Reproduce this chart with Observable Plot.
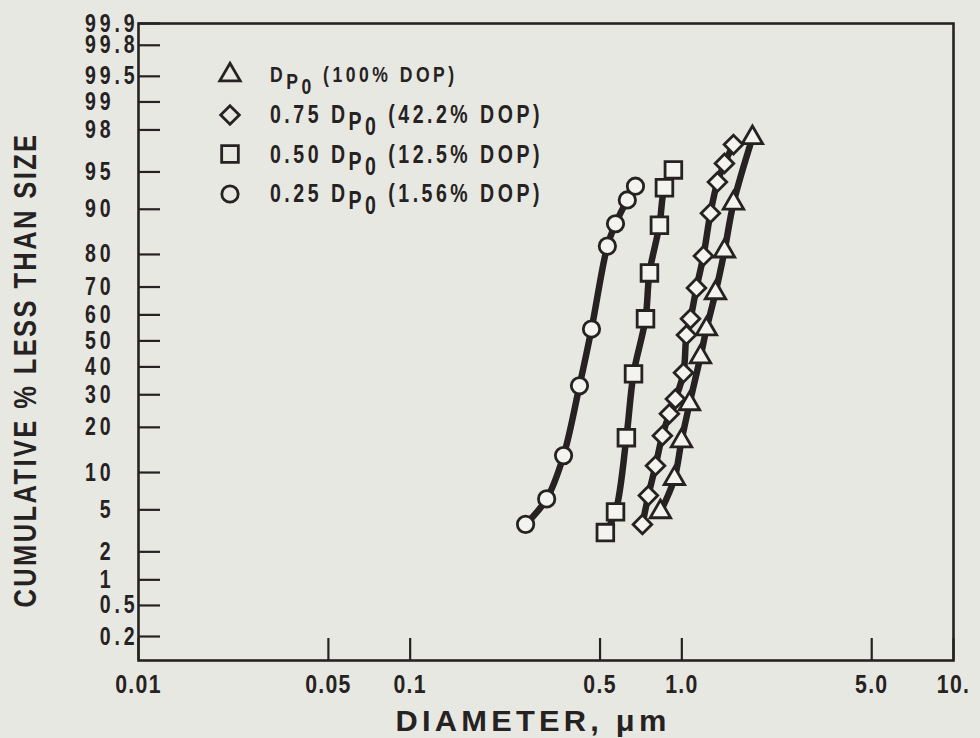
<!DOCTYPE html>
<html>
<head>
<meta charset="utf-8">
<script src="https://cdn.jsdelivr.net/npm/d3@7"></script>
<script src="https://cdn.jsdelivr.net/npm/@observablehq/plot@0.6"></script>
<style>
  html, body { margin: 0; padding: 0; background: #e8e8e3; }
  #wrap { position: relative; width: 980px; height: 738px; overflow: hidden; }
  #wrap > svg { display: block; }
  .legend { position: absolute; left: 0; top: 0; width: 980px; height: 738px; pointer-events: none;
    font-family: "Liberation Sans", Arial, sans-serif; font-weight: bold; color: #262222; }
  .lrow { position: absolute; left: 214px; height: 32px; display: flex; align-items: center; white-space: pre; }
  .lrow svg { width: 32px; height: 32px; flex: none; }
  .ltxt { display: inline-block; margin-left: 24px; letter-spacing: 4.5px; line-height: 1;
    transform: scaleX(0.78); transform-origin: 0 50%; }
  .s1 { position: relative; top: 7px; }
  .s2 { position: relative; top: 12px; }
</style>
</head>
<body>
<div id="wrap"></div>
<script>
// ---------- data ----------
const xTicks = [0.01, 0.05, 0.1, 0.5, 1, 5, 10];
const xTickLabels = ["0.01", "0.05", "0.1", "0.5", "1.0", "5.0", "10."];
const yTickPct = [99.9, 99.8, 99.5, 99, 98, 95, 90, 80, 70, 60, 50, 40, 30, 20, 10, 5, 2, 1, 0.5, 0.2];
const yTickLabels = ["99.9", "99.8", "99.5", "99", "98", "95", "90", "80", "70", "60", "50", "40", "30", "20", "10", "5", "2", "1", "0.5", "0.2"];
const xDomain = [0.01, 10];
const yDomainPct = [0.093, 99.9];

// Dp0 (100% DOP) — triangles
const dp100Diam = [0.834, 0.939, 0.997, 1.067, 1.171, 1.232, 1.330, 1.435, 1.549, 1.819];
const dp100Pct  = [4.8, 9.0, 16.5, 27.0, 43.8, 54.6, 68.0, 80.9, 91.0, 97.6];
// 0.75 Dp0 (42.2% DOP) — diamonds
const dp75Diam = [0.716, 0.753, 0.800, 0.848, 0.900, 0.947, 1.014, 1.040, 1.076, 1.132, 1.201, 1.274, 1.352, 1.435, 1.549];
const dp75Pct  = [3.7, 6.6, 11.2, 17.8, 23.9, 28.6, 37.8, 52.3, 58.5, 69.7, 79.6, 89.3, 93.9, 95.8, 97.2];
// 0.50 Dp0 (12.5% DOP) — squares
const dp50Diam = [0.523, 0.570, 0.625, 0.664, 0.735, 0.760, 0.827, 0.863, 0.931];
const dp50Pct  = [3.1, 4.8, 17.3, 37.4, 58.5, 74.6, 87.0, 93.2, 95.2];
// 0.25 Dp0 (1.56% DOP) — circles
const dp25Diam = [0.266, 0.318, 0.367, 0.420, 0.465, 0.532, 0.570, 0.630, 0.675];
const dp25Pct  = [3.7, 6.2, 13.2, 33.1, 54.6, 82.2, 87.3, 91.5, 93.4];

const legendPrefix = ["", "0.75 ", "0.50 ", "0.25 "];
const legendSuffix = [" (100% DOP)", " (42.2% DOP)", " (12.5% DOP)", " (1.56% DOP)"];

const yTitle = "CUMULATIVE % LESS THAN SIZE";
const xTitle = "DIAMETER, μm";

// ---------- style ----------
const INK = "#262222";
const FILL = "#f3f3ef";
const FONT = '"Liberation Sans", Arial, "DejaVu Sans", sans-serif';

// inverse standard normal CDF (probability-paper scale)
function probit(p) {
  const a = [-3.969683028665376e+01, 2.209460984245205e+02, -2.759285104469687e+02, 1.383577518672690e+02, -3.066479806614716e+01, 2.506628277459239e+00];
  const b = [-5.447609879822406e+01, 1.615858368580409e+02, -1.556989798598866e+02, 6.680131188771972e+01, -1.328068155288572e+01];
  const c = [-7.784894002430293e-03, -3.223964580411365e-01, -2.400758277161838e+00, -2.549732539343734e+00, 4.374664141464968e+00, 2.938163982698783e+00];
  const d = [7.784695709041462e-03, 3.224671290700398e-01, 2.445134137142996e+00, 3.754408661907416e+00];
  const pl = 0.02425, ph = 1 - pl;
  let q, r;
  if (p < pl) {
    q = Math.sqrt(-2 * Math.log(p));
    return (((((c[0]*q+c[1])*q+c[2])*q+c[3])*q+c[4])*q+c[5]) / ((((d[0]*q+d[1])*q+d[2])*q+d[3])*q+1);
  }
  if (p <= ph) {
    q = p - 0.5; r = q * q;
    return (((((a[0]*r+a[1])*r+a[2])*r+a[3])*r+a[4])*r+a[5])*q / (((((b[0]*r+b[1])*r+b[2])*r+b[3])*r+b[4])*r+1);
  }
  q = Math.sqrt(-2 * Math.log(1 - p));
  return -(((((c[0]*q+c[1])*q+c[2])*q+c[3])*q+c[4])*q+c[5]) / ((((d[0]*q+d[1])*q+d[2])*q+d[3])*q+1);
}
const toY = pct => probit(pct / 100);
const table = (diam, pct) => diam.map((v, i) => ({x: v, y: toY(pct[i])}));

const series = [
  {data: table(dp100Diam, dp100Pct), symbol: "triangle", r: 7.6},
  {data: table(dp75Diam, dp75Pct), symbol: "diamond2", r: 8.4},
  {data: table(dp50Diam, dp50Pct), symbol: "square", r: 9.4},
  {data: table(dp25Diam, dp25Pct), symbol: "circle", r: 8.2}
];

const W = 980, H = 738, ML = 138, MR = 27, MT = 23, MB = 78;
const frameW = W - ML - MR, frameH = H - MT - MB, TICK = 22;
const DECIMAL_X = 114; // decimal alignment column of the y labels

const chart = Plot.plot({
  width: W, height: H,
  marginLeft: ML, marginRight: MR, marginTop: MT, marginBottom: MB,
  x: {type: "log", domain: xDomain, axis: null},
  y: {type: "linear", domain: yDomainPct.map(toY), axis: null},
  style: {background: "transparent", color: INK, fontFamily: FONT, fontWeight: "bold", fontSize: "25px", overflow: "visible"},
  marks: [
    Plot.tickX(xTicks, {x: d => d, stroke: INK, strokeWidth: 2.2, insetTop: frameH - TICK}),
    Plot.tickY(yTickPct, {y: toY, stroke: INK, strokeWidth: 2.2, insetRight: frameW - TICK}),
    Plot.frame({stroke: INK, strokeWidth: 2.6}),
    ...series.map(s => Plot.line(s.data, {x: "x", y: "y", curve: "catmull-rom", stroke: INK, strokeWidth: 6.5, strokeLinecap: "round"})),
    ...series.map(s => Plot.dot(s.data, {x: "x", y: "y", symbol: s.symbol, r: s.r, fill: FILL, stroke: INK, strokeWidth: 2.8})),
    // text marks (order matters for post-styling below)
    Plot.text(xTicks, {x: d => d, text: (d, i) => xTickLabels[i], frameAnchor: "bottom", lineAnchor: "middle", dy: 24, fill: INK}),
    Plot.text(yTickPct, {y: toY, text: (d, i) => yTickLabels[i], frameAnchor: "left", textAnchor: "start", lineAnchor: "middle", dx: DECIMAL_X - ML, fill: INK}),
    Plot.text([yTitle], {text: d => d, frameAnchor: "left", textAnchor: "middle", lineAnchor: "middle", rotate: -90, dx: -113, dy: 28, fontSize: 32, fill: INK}),
    Plot.text([xTitle], {text: d => d, frameAnchor: "bottom", textAnchor: "middle", lineAnchor: "middle", dx: -13, dy: 61, fontSize: 29, fill: INK})
  ]
});

const wrap = document.getElementById("wrap");
wrap.appendChild(chart);

// ---------- condensed lettering (typewriter-style narrow glyphs) ----------
const textGroups = chart.querySelectorAll('g[aria-label="text"]');
function squeeze(group, spacing, k, fixedLength, decimalAlign) {
  if (!group) return;
  group.querySelectorAll("text").forEach(t => {
    t.style.letterSpacing = spacing + "px";
    const len = t.getComputedTextLength();
    if (!(len > 0)) return;
    const target = fixedLength ?? (len * k);
    const scale = target / len;
    if (decimalAlign) {
      const s = t.textContent;
      const nInt = s.indexOf(".") < 0 ? s.length : s.indexOf(".");
      const wInt = t.getSubStringLength(0, nInt);
      t.setAttribute("dx", -(wInt * scale));
    }
    t.setAttribute("textLength", target);
    t.setAttribute("lengthAdjust", "spacingAndGlyphs");
  });
}
squeeze(textGroups[0], 1.5, 0.85);
squeeze(textGroups[1], 5, 0.78, null, true);
squeeze(textGroups[2], 3, null, 475);
squeeze(textGroups[3], 4, null, 275);

// ---------- legend ----------
const legend = document.createElement("div");
legend.className = "legend";
const rowCenters = [75, 114.5, 154, 193.5];
series.forEach((s, i) => {
  const row = document.createElement("div");
  row.className = "lrow";
  row.style.top = (rowCenters[i] - 16) + "px";
  const symType = {triangle: d3.symbolTriangle, diamond2: d3.symbolDiamond2, square: d3.symbolSquare, circle: d3.symbolCircle}[s.symbol];
  const path = d3.symbol(symType, Math.PI * s.r * s.r)();
  const size = i === 0 ? 22.5 : 25;
  row.innerHTML =
    `<svg viewBox="-16 -16 32 32"><path d="${path}" fill="none" stroke="${INK}" stroke-width="2.8"/></svg>` +
    `<span class="ltxt" style="font-size:${size}px">${legendPrefix[i]}D<span class="s1">P</span><span class="s2">0</span>${legendSuffix[i]}</span>`;
  legend.appendChild(row);
});
wrap.appendChild(legend);
</script>
</body>
</html>
